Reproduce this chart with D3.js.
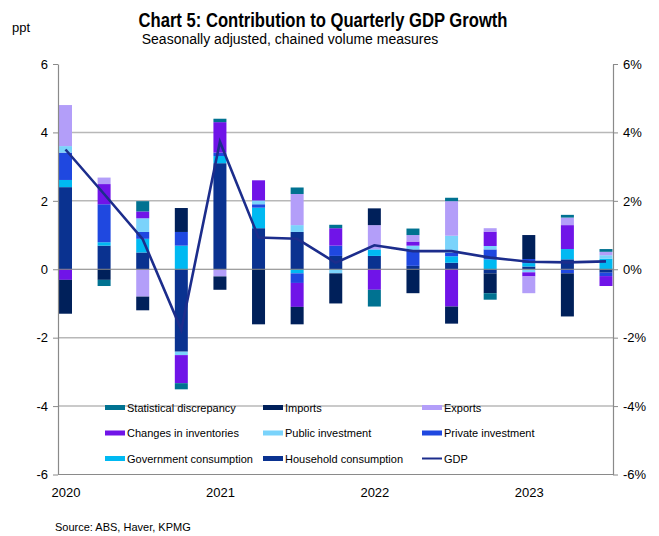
<!DOCTYPE html>
<html>
<head>
<meta charset="utf-8">
<script src="https://cdn.jsdelivr.net/npm/d3@7"></script>
<style>
  html, body { margin: 0; padding: 0; background: #fff; }
  svg { display: block; font-family: "Liberation Sans", Arial, sans-serif; }
</style>
</head>
<body>
<svg id="chart" width="659" height="536"></svg>
<script>
// Quarterly contributions to GDP growth (ppt) and GDP growth (%)
const quarters = ["2020 Q1","2020 Q2","2020 Q3","2020 Q4",
                  "2021 Q1","2021 Q2","2021 Q3","2021 Q4",
                  "2022 Q1","2022 Q2","2022 Q3","2022 Q4",
                  "2023 Q1","2023 Q2","2023 Q3"];

const household   = [2.40, 0.69, 0.49, -2.41, 3.10, 1.20, 1.09, 0.39, 0.39, 0.10, 0.19, -0.12, 0.08, 0.29, -0.10];
const government  = [0.21, 0.10, 0.40, 0.69, 0.21, 0.60, -0.12, 0.00, 0.19, 0.00, 0.19, 0.29, 0.10, 0.30, 0.31];
const privateInv  = [0.80, 1.11, 0.20, 0.40, 0.10, 0.10, -0.28, 0.30, 0.00, 0.47, 0.10, 0.29, 0.12, -0.12, -0.10];
const publicInv   = [0.19, 0.00, 0.40, -0.10, 0.00, 0.11, 0.20, -0.12, 0.00, 0.12, 0.50, 0.10, -0.09, 0.00, 0.10];
const inventories = [-0.31, 0.59, 0.20, -0.82, 0.89, 0.59, -0.70, 0.51, -0.60, 0.12, -1.09, 0.42, -0.12, 0.70, -0.29];
const exportsC    = [1.20, 0.19, -0.80, 0.00, -0.21, 0.00, 0.91, 0.00, 0.71, 0.19, 1.01, 0.10, -0.49, 0.22, 0.10];
const importsC    = [-0.99, -0.31, -0.40, 0.70, -0.39, -1.61, -0.51, -0.88, 0.49, -0.70, -0.50, -0.58, 0.70, -1.26, 0.00];
const statDisc    = [0.00, -0.18, 0.30, -0.18, 0.10, 0.00, 0.19, 0.10, -0.49, 0.19, 0.10, -0.19, 0.00, 0.08, 0.08];
const gdp         = [3.50, 2.20, 0.88, -1.77, 3.73, 0.93, 0.89, 0.19, 0.70, 0.53, 0.53, 0.34, 0.22, 0.20, 0.23];

const yearLabels = ["2020", "2021", "2022", "2023"];
const yearQuarters = ["2020 Q1", "2021 Q1", "2022 Q1", "2023 Q1"];
const leftTicks = [-6, -4, -2, 0, 2, 4, 6];
const leftTickLabels = ["-6", "-4", "-2", "0", "2", "4", "6"];
const rightTickLabels = ["-6%", "-4%", "-2%", "0%", "2%", "4%", "6%"];

// Stacking order, bottom to top
const series = [
  { key: "hh",   name: "Household consumption",  values: household,   color: "#0a3290" },
  { key: "gov",  name: "Government consumption", values: government,  color: "#00b9f2" },
  { key: "priv", name: "Private investment",     values: privateInv,  color: "#1f48e0" },
  { key: "pub",  name: "Public investment",      values: publicInv,   color: "#7ad3fb" },
  { key: "inv",  name: "Changes in inventories", values: inventories, color: "#7014e8" },
  { key: "exp",  name: "Exports",                values: exportsC,    color: "#b39ef9" },
  { key: "imp",  name: "Imports",                values: importsC,    color: "#00205a" },
  { key: "sd",   name: "Statistical discrepancy",values: statDisc,    color: "#007291" }
];
const gdpColor = "#1c2d8c";

const rows = quarters.map((q, i) => {
  const r = { q };
  series.forEach(s => { r[s.key] = s.values[i]; });
  return r;
});

const svg = d3.select("#chart");
const plot = { left: 58, right: 613, top: 64, bottom: 474.5 };
const barWidth = 13;

const x = d3.scalePoint().domain(quarters).range([65.5, 606]);
const y = d3.scaleLinear().domain([-6, 6]).range([plot.bottom, plot.top]);
const yRight = d3.scaleLinear().domain([-6, 6]).range([plot.bottom, plot.top]);

// Gridlines
svg.append("g")
  .selectAll("line")
  .data(leftTicks.filter(t => t !== 0 && t !== -6 && t !== 6))
  .join("line")
  .attr("x1", plot.left).attr("x2", plot.right)
  .attr("y1", d => y(d)).attr("y2", d => y(d))
  .attr("stroke", "#b8b8b8").attr("stroke-width", 1.5);

// Stacked bars
const stacked = d3.stack()
  .keys(series.map(s => s.key))
  .offset(d3.stackOffsetDiverging)(rows);

svg.append("g")
  .selectAll("g")
  .data(stacked)
  .join("g")
  .attr("fill", (d, i) => series[i].color)
  .selectAll("rect")
  .data(d => d.filter(p => p[1] - p[0] !== 0))
  .join("rect")
  .attr("x", p => x(p.data.q) - barWidth / 2)
  .attr("width", barWidth)
  .attr("y", p => y(Math.max(p[0], p[1])))
  .attr("height", p => Math.abs(y(p[0]) - y(p[1])));

// Zero line
svg.append("line")
  .attr("x1", plot.left).attr("x2", plot.right)
  .attr("y1", y(0)).attr("y2", y(0))
  .attr("stroke", "#808080").attr("stroke-width", 1);

// GDP line on the right-hand axis
const line = d3.line()
  .x((d, i) => x(quarters[i]))
  .y(d => yRight(d));
svg.append("path")
  .datum(gdp)
  .attr("d", line)
  .attr("fill", "none")
  .attr("stroke", gdpColor)
  .attr("stroke-width", 2.6)
  .attr("stroke-linejoin", "miter");

// Axes
const axisColor = "#8a8a8a";
const leftAxis = svg.append("g")
  .attr("transform", `translate(${plot.left},0)`)
  .call(d3.axisLeft(y).tickValues(leftTicks).tickSize(5).tickSizeOuter(0).tickPadding(5)
    .tickFormat((d, i) => leftTickLabels[i]));
const rightAxis = svg.append("g")
  .attr("transform", `translate(${plot.right},0)`)
  .call(d3.axisRight(yRight).tickValues(leftTicks).tickSize(5).tickSizeOuter(0).tickPadding(5)
    .tickFormat((d, i) => rightTickLabels[i]));
const bottomAxis = svg.append("g")
  .attr("transform", `translate(0,${plot.bottom})`)
  .call(d3.axisBottom(x).tickValues(yearQuarters).tickSize(0).tickSizeOuter(0).tickPadding(13)
    .tickFormat((d, i) => yearLabels[i]));
bottomAxis.select(".domain").attr("d", `M${plot.left},0H${plot.right}`);

[leftAxis, rightAxis, bottomAxis].forEach(g => {
  g.select(".domain").attr("stroke", axisColor).attr("stroke-width", 1.2);
  g.selectAll(".tick line").attr("stroke", axisColor);
  g.selectAll(".tick text").attr("fill", "#000").style("font-size", "13px")
    .style("font-family", "'Liberation Sans', Arial, sans-serif");
});

// Legend
const legendItems = [
  { name: "Statistical discrepancy", color: "#007291", type: "rect" },
  { name: "Imports",                 color: "#00205a", type: "rect" },
  { name: "Exports",                 color: "#b39ef9", type: "rect" },
  { name: "Changes in inventories",  color: "#7014e8", type: "rect" },
  { name: "Public investment",       color: "#7ad3fb", type: "rect" },
  { name: "Private investment",      color: "#1f48e0", type: "rect" },
  { name: "Government consumption",  color: "#00b9f2", type: "rect" },
  { name: "Household consumption",   color: "#0a3290", type: "rect" },
  { name: "GDP",                     color: gdpColor,  type: "line" }
];
const legendCols = [105, 263, 422];
const legendRows = [407.5, 433, 458.5];
const legend = svg.append("g")
  .selectAll("g")
  .data(legendItems)
  .join("g")
  .attr("transform", (d, i) => `translate(${legendCols[i % 3]},${legendRows[Math.floor(i / 3)]})`);
legend.filter(d => d.type === "rect").append("rect")
  .attr("x", 0).attr("y", -2.5).attr("width", 20).attr("height", 5)
  .attr("fill", d => d.color);
legend.filter(d => d.type === "line").append("line")
  .attr("x1", 0).attr("x2", 20).attr("y1", 0).attr("y2", 0)
  .attr("stroke", d => d.color).attr("stroke-width", 2);
legend.append("text")
  .attr("x", 22).attr("y", 4)
  .style("font-size", "11px")
  .text(d => d.name);

// Titles and notes
svg.append("text")
  .attr("x", 323).attr("y", 27)
  .attr("text-anchor", "middle")
  .attr("textLength", 369).attr("lengthAdjust", "spacingAndGlyphs")
  .style("font-size", "20px").style("font-weight", "bold")
  .text("Chart 5: Contribution to Quarterly GDP Growth");
svg.append("text")
  .attr("x", 290).attr("y", 44)
  .attr("text-anchor", "middle")
  .style("font-size", "14px")
  .text("Seasonally adjusted, chained volume measures");
svg.append("text")
  .attr("x", 12).attr("y", 32)
  .style("font-size", "13px")
  .text("ppt");
svg.append("text")
  .attr("x", 55).attr("y", 531)
  .style("font-size", "11px")
  .text("Source: ABS, Haver, KPMG");
</script>
</body>
</html>
